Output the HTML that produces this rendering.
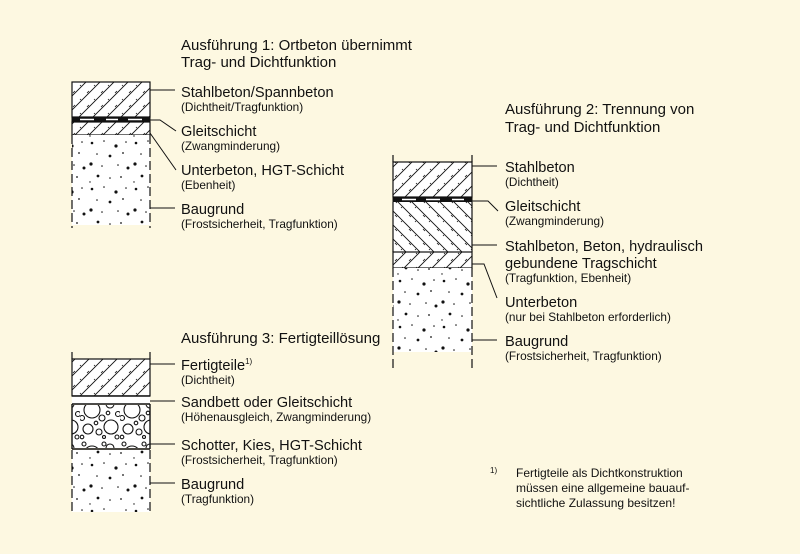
<!DOCTYPE html>
<html><head><meta charset="utf-8"><style>
html,body{margin:0;padding:0;background:#fdf8e1;}
svg{display:block;font-family:"Liberation Sans",Arial,sans-serif;}
.t{font-size:15px;fill:#111}
.m{font-size:14.6px;fill:#111}
.s{font-size:11.8px;fill:#111}
</style></head><body>
<svg width="800" height="554" viewBox="0 0 800 554" xmlns="http://www.w3.org/2000/svg">
<defs>
<pattern id="h1" width="14" height="14" patternUnits="userSpaceOnUse">
<rect width="14" height="14" fill="#fff"/>
<path d="M-1 15 L15 -1 M-8 8 L8 -8 M6 22 L22 6" stroke="#111" stroke-width="0.9"/>
<path d="M3 9 L5 7 M10 2 L11 1" stroke="#111" stroke-width="0.8"/>
</pattern>
<pattern id="h2" width="14" height="14" patternUnits="userSpaceOnUse">
<rect width="14" height="14" fill="#fff"/>
<path d="M-1 -1 L15 15 M-8 6 L8 22 M6 -8 L22 8" stroke="#111" stroke-width="0.9"/>
<path d="M3 5 L5 7 M9 11 L10 12" stroke="#111" stroke-width="0.8"/>
</pattern>
<pattern id="dots" width="44" height="46" patternUnits="userSpaceOnUse">
<rect width="44" height="46" fill="#fff"/>
<g fill="#111">
<circle cx="4" cy="5" r="1.3"/><circle cx="16" cy="3" r="0.8"/><circle cx="28" cy="8" r="1.6"/><circle cx="38" cy="4" r="0.8"/>
<circle cx="9" cy="16" r="0.8"/><circle cx="22" cy="18" r="1.4"/><circle cx="35" cy="15" r="0.9"/>
<circle cx="3" cy="26" r="1.6"/><circle cx="14" cy="28" r="0.8"/><circle cx="30" cy="27" r="0.8"/><circle cx="40" cy="30" r="1.5"/>
<circle cx="10" cy="38" r="1.4"/><circle cx="22" cy="40" r="0.8"/><circle cx="33" cy="39" r="0.9"/><circle cx="2" cy="44" r="0.7"/>
</g>
</pattern>
<pattern id="stones" width="40" height="44" patternUnits="userSpaceOnUse">
<rect width="40" height="44" fill="#fff"/>
<g fill="none" stroke="#111" stroke-width="1.1">
<circle cx="12" cy="14" r="8"/><circle cx="31" cy="31" r="7"/><circle cx="30" cy="8" r="4"/><circle cx="8" cy="33" r="5"/>
<circle cx="22" cy="22" r="3"/><circle cx="2" cy="22" r="2.5"/><circle cx="38" cy="18" r="2.5"/><circle cx="19" cy="36" r="3"/>
<circle cx="24" cy="4" r="2"/><circle cx="4" cy="4" r="2"/><circle cx="37" cy="41" r="2"/><circle cx="16" cy="27" r="1.8"/>
<circle cx="28" cy="17" r="1.8"/><circle cx="2" cy="41" r="1.8"/><circle cx="24" cy="41" r="1.5"/>
</g>
</pattern>
</defs>

<!-- Diagram 1 -->
<g stroke="#111">
<rect x="72" y="82" width="78" height="35" fill="url(#h1)" stroke-width="1.2"/>
<rect x="72" y="117" width="78" height="5" fill="#111"/>
<path d="M80 119.5 H94 M106 119.5 H118 M128 119.5 H142" stroke="#fff" stroke-width="1.6"/>
<rect x="72" y="122" width="78" height="13" fill="url(#h1)" stroke-width="1.2"/>
<rect x="72" y="135" width="78" height="90" fill="url(#dots)" stroke="none"/>
<path d="M72 135 V228 M150 135 V228" stroke-width="1.2" stroke-dasharray="9 4" fill="none"/>
<path d="M150 90 H175 M150 120 H160 L176 131 M150 133 L176 170 M150 208 H175" stroke-width="1" fill="none"/>
</g>
<text class="t" x="181" y="50">Ausführung 1: Ortbeton übernimmt</text>
<text class="t" x="181" y="67">Trag- und Dichtfunktion</text>
<text class="m" x="181" y="97">Stahlbeton/Spannbeton</text>
<text class="s" x="181" y="111">(Dichtheit/Tragfunktion)</text>
<text class="m" x="181" y="136">Gleitschicht</text>
<text class="s" x="181" y="150">(Zwangminderung)</text>
<text class="m" x="181" y="175">Unterbeton, HGT-Schicht</text>
<text class="s" x="181" y="189">(Ebenheit)</text>
<text class="m" x="181" y="214">Baugrund</text>
<text class="s" x="181" y="228">(Frostsicherheit, Tragfunktion)</text>

<!-- Diagram 2 -->
<g stroke="#111">
<path d="M393 155 V162 M472 155 V162" stroke-width="1.2"/>
<rect x="393" y="162" width="79" height="35" fill="url(#h1)" stroke-width="1.2"/>
<rect x="393" y="197" width="79" height="5" fill="#111"/>
<path d="M402 199.5 H416 M426 199.5 H440 M452 199.5 H464" stroke="#fff" stroke-width="1.6"/>
<rect x="393" y="202" width="79" height="50" fill="url(#h2)" stroke="none"/>
<path d="M393 202 V252 M472 202 V252" stroke-width="1.2"/>
<rect x="393" y="252" width="79" height="16" fill="url(#h1)" stroke-width="1.2"/>
<rect x="393" y="268" width="79" height="84" fill="url(#dots)" stroke="none"/>
<path d="M393 268 V368 M472 268 V368" stroke-width="1.2" stroke-dasharray="9 4" fill="none"/>
<path d="M472 166 H497 M472 201 H488 L498 211 M472 245 H497 M472 264 H484 L497 298 M472 340 H497" stroke-width="1" fill="none"/>
</g>
<text class="t" x="505" y="114">Ausführung 2: Trennung von</text>
<text class="t" x="505" y="132">Trag- und Dichtfunktion</text>
<text class="m" x="505" y="172">Stahlbeton</text>
<text class="s" x="505" y="186">(Dichtheit)</text>
<text class="m" x="505" y="211">Gleitschicht</text>
<text class="s" x="505" y="225">(Zwangminderung)</text>
<text class="m" x="505" y="251">Stahlbeton, Beton, hydraulisch</text>
<text class="m" x="505" y="268">gebundene Tragschicht</text>
<text class="s" x="505" y="282">(Tragfunktion, Ebenheit)</text>
<text class="m" x="505" y="307">Unterbeton</text>
<text class="s" x="505" y="321">(nur bei Stahlbeton erforderlich)</text>
<text class="m" x="505" y="346">Baugrund</text>
<text class="s" x="505" y="360">(Frostsicherheit, Tragfunktion)</text>

<!-- Diagram 3 -->
<g stroke="#111">
<path d="M72 352 V359 M150 352 V359" stroke-width="1.2"/>
<rect x="72" y="359" width="78" height="37" fill="url(#h1)" stroke-width="1.2"/>
<rect x="72" y="396" width="78" height="8" fill="#fff" stroke="none"/>
<path d="M72 396 H150 M72 404 H150" stroke-width="1.6"/>
<rect x="72" y="405" width="78" height="43" fill="url(#stones)" stroke="none"/>
<path d="M72 404 V449 M150 404 V449 M72 449 H150" stroke-width="1.4" fill="none"/>
<rect x="72" y="450" width="78" height="62" fill="url(#dots)" stroke="none"/>
<path d="M72 450 V515 M150 450 V515" stroke-width="1.2" stroke-dasharray="9 4" fill="none"/>
<path d="M150 364 H175 M150 401 H175 M150 444 H175 M150 483 H175" stroke-width="1" fill="none"/>
</g>
<text class="t" x="181" y="343">Ausführung 3: Fertigteillösung</text>
<text class="m" x="181" y="370">Fertigteile<tspan font-size="8" dy="-6">1)</tspan></text>
<text class="s" x="181" y="384">(Dichtheit)</text>
<text class="m" x="181" y="407">Sandbett oder Gleitschicht</text>
<text class="s" x="181" y="421">(Höhenausgleich, Zwangminderung)</text>
<text class="m" x="181" y="450">Schotter, Kies, HGT-Schicht</text>
<text class="s" x="181" y="464">(Frostsicherheit, Tragfunktion)</text>
<text class="m" x="181" y="489">Baugrund</text>
<text class="s" x="181" y="503">(Tragfunktion)</text>

<text x="490" y="473" font-size="8" fill="#111">1)</text>
<text class="s" x="516" y="477" style="font-size:12px">Fertigteile als Dichtkonstruktion</text>
<text class="s" x="516" y="492" style="font-size:12px">müssen eine allgemeine bauauf-</text>
<text class="s" x="516" y="507" style="font-size:12px">sichtliche Zulassung besitzen!</text>
</svg>
</body></html>
